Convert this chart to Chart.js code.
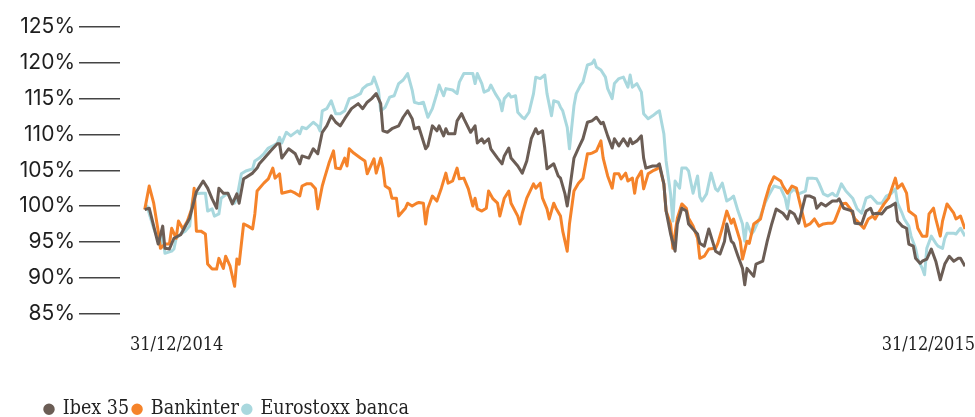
<!DOCTYPE html>
<html>
<head>
<meta charset="utf-8">
<script src="https://cdn.jsdelivr.net/npm/chart.js@4.4.1/dist/chart.umd.min.js"></script>
<style>
  html, body { margin: 0; padding: 0; background: #fff; }
  #wrap { width: 975px; height: 417px; }
</style>
</head>
<body>
<div id="wrap"><canvas id="chart"></canvas></div>
<script>
"use strict";

// dias naturales desde 31/12/2014, valor base 100
const ibex = [[0,99.5],[2,99.7],[6,94.7],[8,97.2],[9,94.1],[11,94.0],[13,95.5],[16,96.0],[20,98.3],[23,102.0],[26,103.5],[28,102.5],[30,101.0],[32,99.7],[33,102.5],[35,101.8],[37,101.8],[39,100.3],[41,101.7],[42,100.4],[44,103.8],[45,104.0],[48,104.6],[50,105.3],[51,105.9],[53,106.6],[56,107.7],[59,108.7],[60,108.7],[61,106.7],[64,108.0],[67,107.3],[69,105.9],[70,107.0],[73,106.7],[75,108.0],[77,107.3],[79,110.3],[81,111.2],[83,112.6],[85,111.7],[87,111.2],[89,112.2],[92,113.6],[95,114.3],[97,113.6],[99,114.5],[101,115.0],[103,115.7],[105,114.3],[106,110.5],[108,110.3],[110,110.8],[113,111.2],[115,112.4],[117,113.3],[119,112.2],[120,110.8],[122,111.0],[125,108.0],[126,108.4],[128,111.2],[130,110.5],[131,111.2],[133,109.8],[134,110.8],[135,110.1],[138,110.1],[139,111.9],[141,112.9],[142,112.2],[145,110.3],[147,111.2],[148,108.8],[150,109.4],[151,108.8],[153,109.4],[154,108.0],[157,106.7],[159,105.9],[160,107.0],[162,108.1],[163,106.7],[166,105.6],[168,104.6],[170,106.3],[172,109.4],[174,110.8],[175,110.1],[177,110.5],[178,108.1],[179,105.2],[182,105.9],[184,104.2],[185,103.9],[187,101.7],[188,100.0],[189,102.1],[191,106.7],[193,108.1],[195,109.4],[197,111.7],[199,111.9],[201,112.4],[203,111.5],[204,111.7],[206,109.8],[208,108.1],[209,109.4],[211,108.4],[213,109.4],[215,108.4],[216,109.4],[217,108.7],[219,109.1],[221,109.8],[222,106.7],[223,105.3],[226,105.6],[228,105.6],[229,105.9],[231,103.1],[232,99.3],[234,96.1],[236,93.7],[237,97.5],[239,99.7],[241,99.3],[242,97.5],[244,96.8],[246,96.1],[247,94.8],[249,94.4],[251,96.8],[254,93.7],[256,93.3],[258,95.1],[259,97.5],[261,95.1],[262,94.8],[264,93.0],[266,91.3],[267,89.0],[268,91.3],[271,90.2],[272,91.9],[275,92.3],[277,95.1],[279,97.5],[281,99.6],[284,99.0],[286,98.2],[287,99.3],[289,98.9],[291,97.6],[294,101.4],[296,101.4],[298,101.1],[299,99.7],[301,100.4],[303,100.0],[306,100.7],[308,100.7],[309,101.0],[311,99.7],[315,99.3],[316,97.6],[319,97.5],[321,99.3],[323,99.7],[324,98.9],[326,99.0],[328,98.9],[330,99.7],[332,100.0],[334,100.4],[335,97.9],[337,97.2],[339,96.9],[340,94.7],[342,94.4],[343,92.7],[345,92.0],[346,92.3],[348,92.6],[350,94.0],[352,92.3],[354,89.7],[356,91.9],[358,93.0],[360,92.3],[362,92.7],[363,92.7],[365,91.6]];

const bankinter = [[0,99.5],[2,102.8],[4,100.4],[6,96.5],[7,94.1],[9,94.7],[11,94.7],[12,96.9],[14,95.5],[15,97.9],[17,96.8],[19,97.9],[21,99.7],[22,102.5],[23,96.5],[25,96.5],[27,96.1],[28,91.9],[30,91.2],[32,91.2],[33,92.7],[35,91.3],[36,93.0],[38,91.6],[40,88.8],[41,92.6],[42,91.9],[44,97.5],[46,97.2],[48,96.8],[49,98.9],[50,102.1],[53,103.2],[55,103.8],[57,105.3],[58,103.9],[59,104.2],[60,104.5],[61,101.8],[65,102.1],[67,101.8],[69,101.4],[70,102.8],[72,103.1],[74,103.1],[76,102.4],[77,99.6],[79,102.8],[80,103.9],[82,106.0],[84,107.7],[85,105.3],[87,105.2],[89,106.7],[90,105.6],[91,108.0],[93,107.4],[96,106.7],[98,106.3],[99,104.5],[101,105.9],[102,106.6],[103,104.6],[105,106.7],[106,105.3],[107,102.8],[109,102.4],[110,101.1],[112,101.1],[113,98.6],[116,99.7],[117,100.4],[119,100.0],[121,100.4],[122,100.5],[124,100.4],[125,97.5],[126,99.7],[128,101.4],[130,100.7],[132,102.5],[134,104.6],[135,103.2],[137,103.5],[139,105.3],[140,103.8],[142,103.9],[144,102.4],[146,100.0],[147,101.1],[148,99.6],[150,99.3],[152,99.7],[153,102.1],[155,101.0],[157,100.4],[158,98.6],[160,101.1],[162,102.1],[163,100.4],[166,98.6],[167,97.5],[168,99.0],[170,101.1],[173,103.1],[174,102.5],[176,103.2],[177,101.1],[179,99.6],[180,98.2],[182,100.4],[183,99.7],[185,98.6],[186,96.5],[188,93.7],[189,97.5],[191,102.1],[193,103.2],[195,103.9],[197,107.3],[198,107.3],[199,107.4],[201,107.7],[203,109.1],[204,106.7],[206,104.2],[208,102.5],[209,104.5],[211,104.5],[212,103.8],[214,104.6],[215,103.5],[217,103.9],[218,101.8],[219,103.8],[221,104.9],[222,102.4],[224,104.5],[226,104.9],[228,105.2],[229,105.6],[231,103.1],[232,99.3],[234,97.5],[235,94.1],[237,98.3],[239,100.3],[241,99.7],[242,98.3],[244,97.2],[246,95.5],[247,92.7],[249,93.0],[251,94.0],[254,94.1],[255,94.8],[257,96.9],[259,99.3],[261,97.6],[262,98.2],[265,95.1],[266,92.6],[268,95.1],[269,94.8],[271,97.5],[274,98.2],[276,100.7],[278,102.8],[280,104.1],[283,103.5],[284,102.8],[286,101.8],[288,102.8],[290,102.5],[291,101.1],[294,97.2],[296,97.5],[298,98.2],[300,97.2],[302,97.5],[304,97.6],[306,97.6],[307,97.9],[310,100.3],[312,100.4],[314,99.6],[316,98.2],[317,97.9],[320,96.9],[322,98.2],[324,98.6],[325,98.2],[327,99.3],[329,100.3],[331,101.1],[334,103.9],[335,102.5],[337,103.1],[339,101.8],[340,99.3],[343,98.6],[344,96.9],[346,95.8],[348,95.8],[349,98.9],[351,99.7],[352,98.2],[354,95.8],[355,97.9],[357,100.3],[360,99.0],[361,98.2],[363,98.6],[365,96.8]];

const eurostoxx = [[0,99.5],[1,100.0],[4,96.9],[7,94.4],[8,96.1],[9,93.4],[12,93.7],[13,94.0],[14,95.5],[16,96.1],[18,96.5],[20,97.2],[21,100.3],[22,101.7],[25,101.8],[27,101.8],[28,99.3],[30,99.6],[31,98.6],[33,98.9],[34,101.1],[37,101.8],[38,101.1],[40,100.4],[41,101.1],[43,104.5],[45,104.9],[48,105.2],[49,106.3],[51,106.7],[53,107.3],[55,108.1],[57,108.4],[59,108.8],[60,109.6],[61,108.8],[63,110.3],[65,109.8],[68,110.5],[69,110.1],[70,111.0],[72,110.8],[75,111.7],[77,111.2],[78,110.5],[79,113.3],[81,113.6],[83,114.7],[85,112.9],[87,112.9],[89,113.3],[91,115.0],[93,115.2],[96,115.7],[97,116.4],[99,116.9],[101,117.1],[102,118.0],[104,116.2],[105,113.3],[107,113.8],[109,115.2],[111,115.4],[113,117.1],[115,117.6],[117,118.5],[119,116.2],[120,114.5],[122,114.3],[124,114.5],[126,112.4],[128,113.6],[130,115.7],[131,116.9],[133,115.4],[134,116.4],[137,116.2],[139,115.7],[140,117.3],[142,118.5],[144,118.5],[146,118.5],[147,117.1],[148,118.5],[150,117.1],[151,115.9],[153,116.2],[154,116.9],[156,115.7],[158,114.7],[159,113.3],[160,115.0],[162,115.7],[163,115.2],[165,115.4],[166,113.1],[168,112.4],[169,112.2],[171,113.1],[173,115.7],[174,118.0],[176,117.8],[178,118.3],[179,115.7],[181,112.6],[182,114.7],[184,114.5],[185,113.8],[186,113.3],[188,111.0],[189,108.0],[191,114.0],[192,115.7],[194,116.9],[195,117.3],[197,119.7],[199,119.9],[200,120.4],[201,119.4],[203,119.0],[205,118.0],[206,116.4],[208,115.0],[209,117.1],[211,117.8],[213,118.0],[215,116.6],[216,118.3],[217,116.6],[219,117.1],[221,115.9],[222,112.9],[224,112.2],[226,112.6],[228,113.1],[229,113.3],[231,110.1],[232,106.3],[234,101.7],[235,97.9],[236,103.5],[238,102.5],[239,105.3],[241,105.3],[242,104.9],[244,101.8],[246,104.2],[247,101.3],[248,100.7],[250,101.7],[252,104.6],[254,102.4],[255,102.1],[257,103.2],[259,100.7],[261,101.1],[262,101.4],[264,99.3],[266,97.5],[267,95.1],[268,97.6],[270,96.1],[271,96.5],[274,98.6],[276,100.4],[278,101.7],[280,102.8],[283,102.5],[285,101.1],[286,99.6],[287,101.8],[289,102.4],[291,101.7],[294,102.1],[295,103.9],[297,103.9],[299,103.8],[300,103.2],[302,101.7],[304,101.4],[306,101.8],[307,101.5],[308,101.4],[310,103.1],[312,102.1],[315,101.1],[317,99.6],[319,99.0],[321,101.1],[323,101.4],[324,101.1],[326,100.4],[328,100.4],[330,101.4],[332,101.7],[334,102.4],[335,100.4],[337,99.0],[338,98.2],[340,97.2],[341,95.8],[343,94.1],[344,92.6],[346,91.3],[347,90.4],[348,94.1],[350,95.8],[352,94.8],[353,94.4],[355,94.1],[356,95.5],[357,96.2],[360,96.2],[361,96.1],[363,96.9],[365,95.8]];

const seriesNames = ['Ibex 35', 'Bankinter', 'Eurostoxx banca'];
const seriesColors = ['#6b5d55', '#f5832a', '#a9d8de'];
const dateLabels = ['31/12/2014', '31/12/2015'];
const yTicks = [85, 90, 95, 100, 105, 110, 115, 120, 125];

const slab = "'DejaVu Serif Condensed', 'DejaVu Serif', serif";
const legendIndent = 41;

function toPoints(rows) {
    return rows.map(function (r) { return { x: r[0], y: r[1] }; });
}

const allSeries = [ibex, bankinter, eurostoxx];

const datasets = allSeries.map(function (rows, i) {
    return {
        label: seriesNames[i],
        data: toPoints(rows),
        borderColor: seriesColors[i],
        backgroundColor: seriesColors[i],
        borderWidth: 3,
        pointRadius: 0,
        tension: 0,
        borderJoinStyle: 'round'
    };
});

// la leyenda va sangrada respecto al borde izquierdo
const legendShift = {
    id: 'legendShift',
    afterLayout: function (chart) {
        chart.legend.left += legendIndent;
    }
};

new Chart(document.getElementById('chart'), {
    type: 'line',
    data: { datasets: datasets },
    plugins: [legendShift],
    options: {
        responsive: true,
        maintainAspectRatio: false,
        animation: false,
        events: [],
        layout: {
            padding: { top: 27, left: 0, right: 10, bottom: -12 }
        },
        scales: {
            x: {
                type: 'linear',
                min: -11,
                max: 365,
                grid: { display: false, drawTicks: true, tickLength: 21 },
                border: { display: false },
                afterBuildTicks: function (scale) {
                    scale.ticks = [{ value: scale.min }, { value: scale.max }];
                },
                afterFit: function (scale) {
                    scale.height = 82;
                },
                ticks: {
                    align: 'inner',
                    labelOffset: 10,
                    padding: 0,
                    maxRotation: 0,
                    color: '#222',
                    font: { family: slab, size: 18 },
                    callback: function (v, idx) { return dateLabels[idx]; }
                }
            },
            y: {
                min: 85,
                max: 125,
                afterBuildTicks: function (scale) {
                    scale.ticks = yTicks.map(function (v) { return { value: v }; });
                },
                afterFit: function (scale) {
                    scale.width = 120;
                },
                grid: {
                    drawOnChartArea: false,
                    drawTicks: true,
                    tickLength: 41,
                    color: '#444',
                    lineWidth: 1.5
                },
                border: { display: false },
                ticks: {
                    padding: 4,
                    color: '#1e1e1e',
                    font: { family: 'Inter', size: 21 },
                    callback: function (v) { return v + '%'; }
                }
            }
        },
        plugins: {
            tooltip: { enabled: false },
            legend: {
                position: 'bottom',
                align: 'start',
                labels: {
                    usePointStyle: true,
                    pointStyle: 'circle',
                    boxWidth: 8,
                    boxHeight: 6,
                    padding: 4,
                    color: '#222',
                    font: { family: slab, size: 19.5 }
                }
            }
        }
    }
});
</script>
</body>
</html>
